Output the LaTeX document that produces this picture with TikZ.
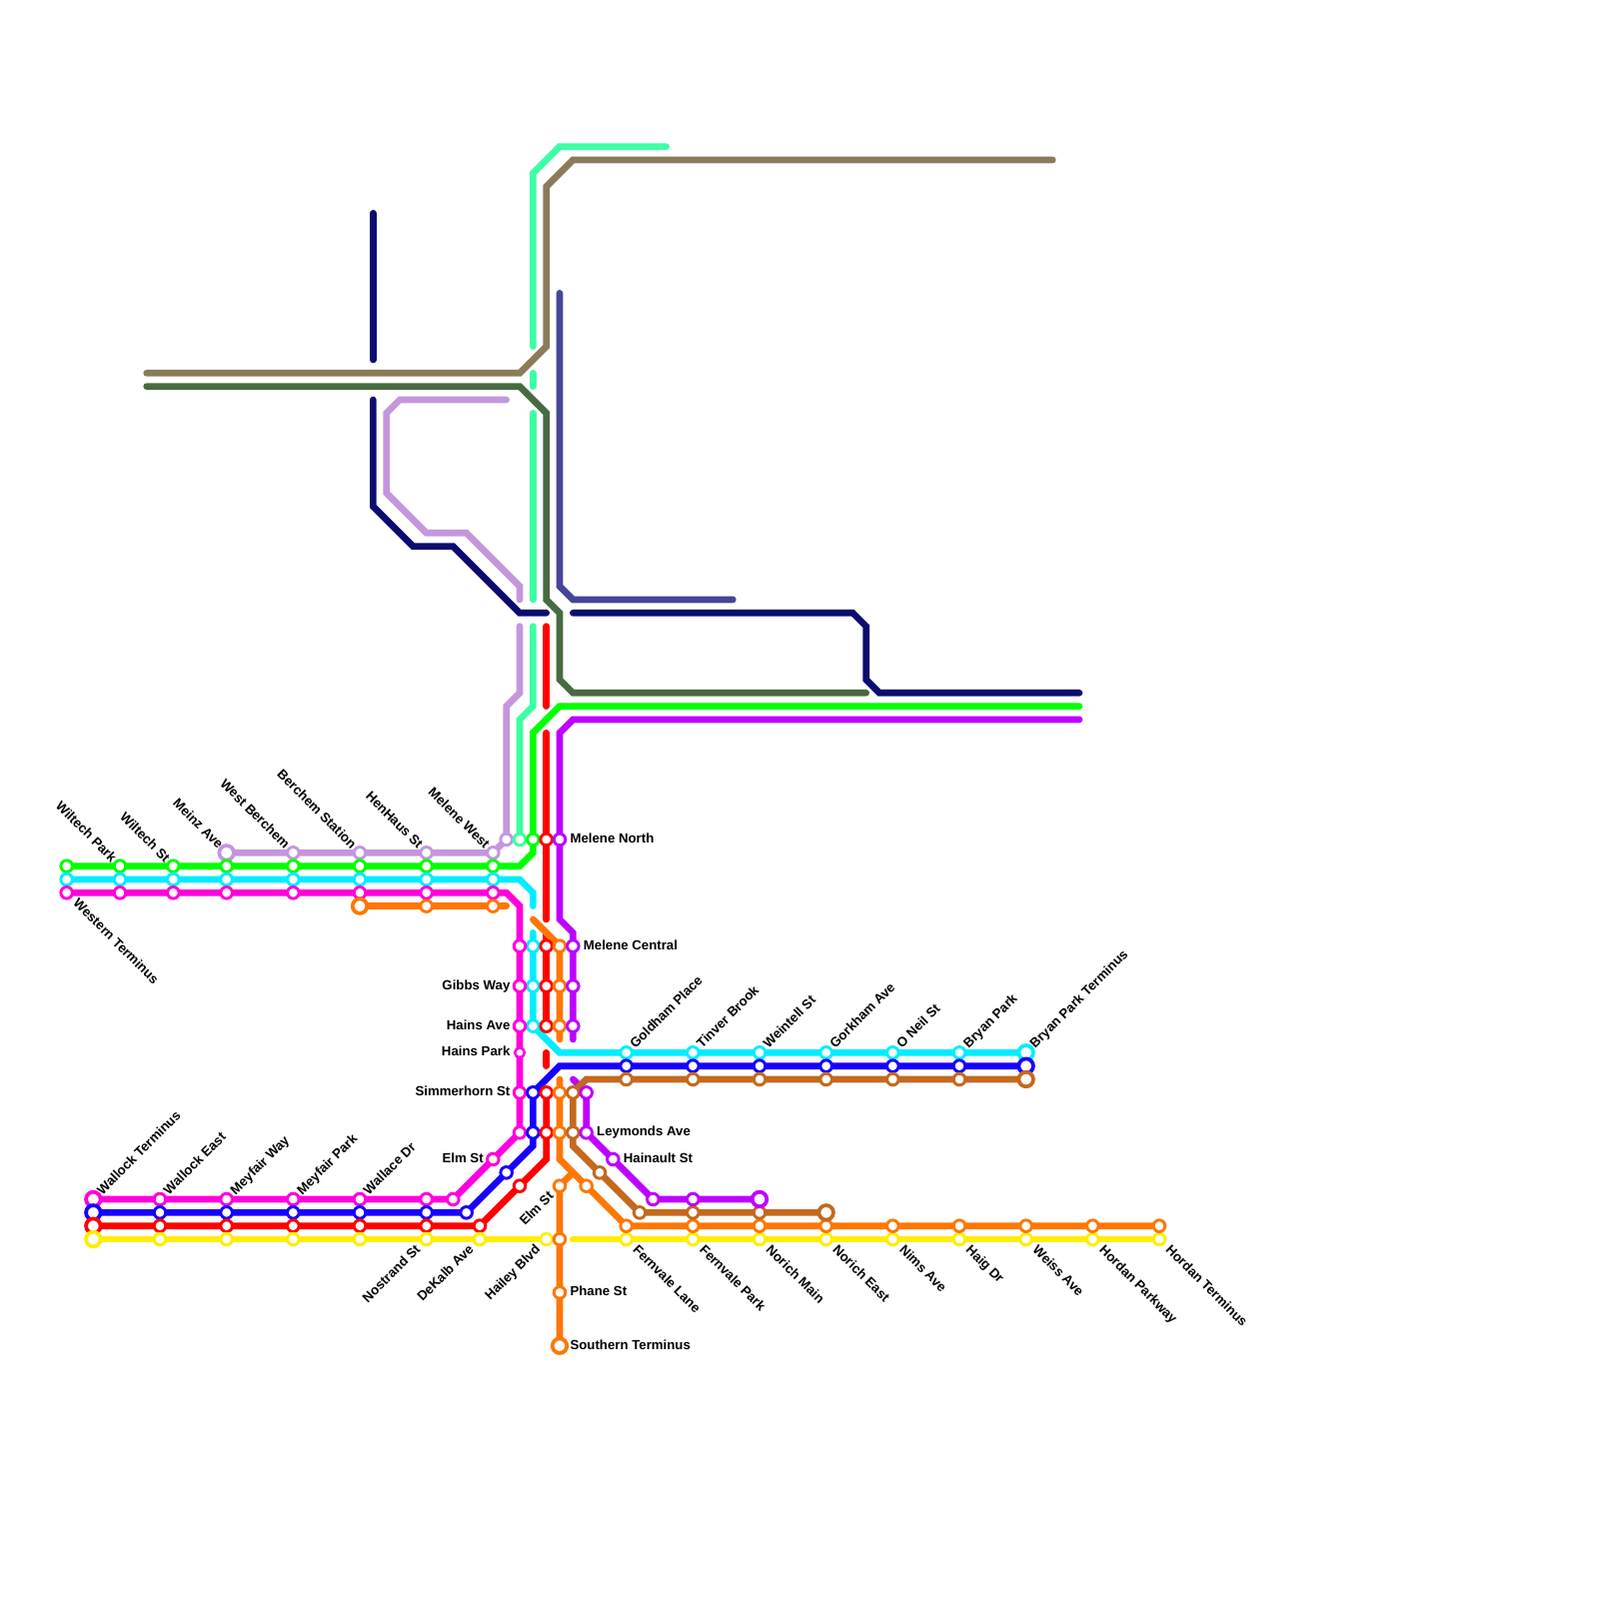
\documentclass[tikz,border=0pt]{standalone}
\usepackage{fontspec}
\setmainfont{Liberation Sans}
\usetikzlibrary{backgrounds}
\definecolor{lime}{HTML}{00FF00}
\definecolor{aqua}{HTML}{00EEFF}
\definecolor{pinkish}{HTML}{FF00DD}
\definecolor{bluish}{HTML}{1800FF}
\definecolor{redline}{HTML}{FF0000}
\definecolor{yellowish}{HTML}{FFEE00}
\definecolor{amber}{HTML}{FF7700}
\definecolor{rust}{HTML}{C4691E}
\definecolor{violet}{HTML}{BF00FF}
\definecolor{lilac}{HTML}{C497DD}
\definecolor{navy}{HTML}{0C0C70}
\definecolor{mint}{HTML}{3DFFA5}
\definecolor{taupe}{HTML}{8A7C5A}
\definecolor{moss}{HTML}{476B41}
\definecolor{indigo}{HTML}{45459A}
\tikzset{stn/.style={circle,fill=white,inner sep=0pt,minimum size=4.95pt,line width=1.25pt},stnbig/.style={circle,fill=white,inner sep=0pt,minimum size=6.2pt,line width=1.6pt},stnsmall/.style={circle,fill=white,inner sep=0pt,minimum size=4.1pt,line width=1.05pt},route/.style={line width=2.85pt,line cap=round},lbl/.style={font=\bfseries\fontsize{5.65}{6}\selectfont,inner sep=0pt},lblne/.style={lbl,anchor=base west,xshift=3.8pt,yshift=1.5pt,rotate=45},lblse/.style={lbl,anchor=base west,xshift=2.4pt,yshift=-4.7pt,rotate=-45},lblnw/.style={lbl,anchor=base east,xshift=-3.65pt,yshift=1.25pt,rotate=-45},lblsw/.style={lbl,anchor=base east,xshift=-2.2pt,yshift=-4.6pt,rotate=45},lble/.style={lbl,anchor=base west,xshift=4.3pt,yshift=-1.5pt},lblw/.style={lbl,anchor=base east,xshift=-3.9pt,yshift=-1.5pt}}

\begin{document}
\begin{tikzpicture}[x=2mm,y=-2mm]
\useasboundingbox (0,0) rectangle (120,120);
% stations
\foreach \x/\y in {22/64,27/64,32/64,37/64,38/63} \node[stn,draw=lilac] (li-\x-\y) at (\x,\y) {};
\node[stnbig,draw=lilac] (li-17-64) at (17,64) {};
\node[stn,draw=mint] (i-39-63) at (39,63) {};
\foreach \x/\y in {5/65,9/65,13/65,17/65,22/65,27/65,32/65,37/65,40/63} \node[stn,draw=lime] (g-\x-\y) at (\x,\y) {};
\foreach \x/\y in {5/66,9/66,13/66,17/66,22/66,27/66,32/66,37/66,40/71,40/74,40/77,47/79,52/79,57/79,62/79,67/79,72/79} \node[stn,draw=aqua] (c-\x-\y) at (\x,\y) {};
\node[stnbig,draw=aqua] (c-77-79) at (77,79) {};
\foreach \x/\y in {5/67,9/67,13/67,17/67,22/67,27/67,32/67,37/67,39/71,39/74,39/77,39/82,39/85,37/87,34/90,32/90,27/90,22/90,17/90,12/90} \node[stn,draw=pinkish] (m-\x-\y) at (\x,\y) {};
\node[stnsmall,draw=pinkish] (m-39-79) at (39,79) {};
\node[stnbig,draw=pinkish] (m-7-90) at (7,90) {};
\foreach \x/\y in {12/91,17/91,22/91,27/91,32/91,35/91,38/88,40/85,40/82,47/80,52/80,57/80,62/80,67/80,72/80} \node[stn,draw=bluish] (b-\x-\y) at (\x,\y) {};
\node[stnbig,draw=bluish] (b-7-91) at (7,91) {};
\node[stnbig,draw=bluish] (b-77-80) at (77,80) {};
\foreach \x/\y in {41/63,41/71,41/74,41/77,41/82,41/85,39/89,36/92,32/92,27/92,22/92,17/92,12/92} \node[stn,draw=redline] (r-\x-\y) at (\x,\y) {};
\node[stnbig,draw=redline] (r-7-92) at (7,92) {};
\foreach \x/\y in {12/93,17/93,22/93,27/93,32/93,36/93,47/93,52/93,57/93,62/93,67/93,72/93,77/93,82/93,87/93} \node[stn,draw=yellowish] (y-\x-\y) at (\x,\y) {};
\node[stnbig,draw=yellowish] (y-7-93) at (7,93) {};
\node[stn,draw=yellowish,line width=1.1pt] (y-41-93) at (41,93) {};
\foreach \x/\y in {32/68,37/68,42/71,42/74,42/77,42/82,42/85,42/89,44/89,42/93,42/97,47/92,52/92,57/92,62/92,67/92,72/92,77/92,82/92,87/92} \node[stn,draw=amber] (o-\x-\y) at (\x,\y) {};
\node[stnbig,draw=amber] (o-27-68) at (27,68) {};
\node[stnbig,draw=amber] (o-42-101) at (42,101) {};
\foreach \x/\y in {43/82,43/85,45/88,48/91,52/91,57/91,47/81,52/81,57/81,62/81,67/81,72/81} \node[stn,draw=rust] (u-\x-\y) at (\x,\y) {};
\node[stnbig,draw=rust] (u-62-91) at (62,91) {};
\node[stnbig,draw=rust] (u-77-81) at (77,81) {};
\foreach \x/\y in {42/63,43/71,43/74,43/77,44/82,44/85,46/87,49/90,52/90} \node[stn,draw=violet] (v-\x-\y) at (\x,\y) {};
\node[stnbig,draw=violet] (v-57-90) at (57,90) {};
% line bends and free ends
\foreach \n/\x/\y in {ga/39/65,gb/40/64,gc/40/55,gd/42/53,ge/81/53,
ca/39/66,cb/40/67,cc/40/68,cd/40/70,ce/42/79,
ma/38/67,mb/39/68,mc/39/85,
ba/40/86,bb/42/80,
ra/41/87,rb/41/79,rc/41/80,rd/41/70,re/41/69,rf/41/55,rg/41/53,rh/41/47,
ya/43/93,
oa/38/68,ob/40/69,oc/42/71,od/42/78,oe/42/81,of/42/87,og/43/88,
ua/44/81,ub/43/86,uc/48/91,
va/81/54,vb/43/54,vc/42/55,vd/42/69,ve/43/70,vf/43/78,vg/43/81,vh/44/85,vi/49/90,
la/38/30,lb/30/30,lc/29/31,ld/29/37,le/32/40,lf/35/40,lg/39/44,lh/39/45,li/39/47,lj/39/52,lk/38/53,lm/37/64,
na/28/16,nb/28/27,nc/28/30,nd/28/38,ne/31/41,nf/34/41,ng/39/46,nh/41/46,ni/43/46,nj/64/46,nk/65/47,nl/65/51,nm/66/52,nn/81/52,
ia/50/11,ib/42/11,ic/40/13,id/40/26,ie/40/28,ig/40/29,ih/40/31,ii/40/45,ij/40/47,ik/40/53,il/39/54,
ta/79/12,tb/43/12,tc/41/14,td/41/26,te/39/28,tf/11/28,
sa/11/29,sb/39/29,sc/41/31,sd/41/45,se/42/46,sf/42/51,sg/43/52,sh/65/52,
da/42/22,db/42/44,dc/43/45,dd/55/45} \coordinate (\n) at (\x,\y);
\begin{scope}[on background layer]
\draw[route,navy] (na)--(nb);
\draw[route,navy] (nc)--(nd)--(ne)--(nf)--(ng)--(nh);
\draw[route,navy] (ni)--(nj)--(nk)--(nl)--(nm)--(nn);
\draw[route,indigo] (da)--(db)--(dc)--(dd);
\draw[route,mint] (ia)--(ib)--(ic)--(id);
\draw[route,mint] (ie)--(ig);
\draw[route,mint] (ih)--(ii);
\draw[route,mint] (ij)--(ik)--(il)--(i-39-63.center);
\draw[route,taupe] (ta)--(tb)--(tc)--(td)--(te)--(tf);
\draw[route,moss] (sa)--(sb)--(sc)--(sd)--(se)--(sf)--(sg)--(sh);
\draw[route,lilac] (la)--(lb)--(lc)--(ld)--(le)--(lf)--(lg)--(lh);
\draw[route,lilac] (li)--(lj)--(lk)--(li-38-63.center)--(lm)--(li-17-64.center);
\draw[route,lime] (g-5-65.center)--(ga)--(gb)--(gc)--(gd)--(ge);
\draw[route,aqua] (c-5-66.center)--(ca)--(cb)--(cc);
\draw[route,aqua] (cd)--(c-40-77.center)--(ce)--(c-77-79.center);
\draw[route,pinkish] (m-5-67.center)--(ma)--(mb)--(mc)--(m-34-90.center)--(m-7-90.center);
\draw[route,bluish] (b-7-91.center)--(b-35-91.center)--(ba)--(b-40-82.center)--(bb)--(b-77-80.center);
\draw[route,redline] (r-7-92.center)--(r-36-92.center)--(ra)--(r-41-82.center);
\draw[route,redline] (rb)--(rc);
\draw[route,redline] (rd)--(r-41-77.center);
\draw[route,redline] (re)--(rf);
\draw[route,redline] (rg)--(rh);
\draw[route,yellowish] (y-7-93.center)--(y-41-93.center);
\draw[route,yellowish] (ya)--(y-87-93.center);
\draw[route,amber] (o-27-68.center)--(oa);
\draw[route,amber] (ob)--(oc)--(od);
\draw[route,amber] (oe)--(of)--(o-47-92.center)--(o-87-92.center);
\draw[route,amber] (o-42-101.center)--(o-42-89.center)--(og)--(of);
\draw[route,violet] (va)--(vb)--(vc)--(vd)--(ve)--(vf);
\draw[route,violet] (vg)--(v-44-82.center)--(vh)--(vi)--(v-57-90.center);
\draw[route,rust] (u-77-81.center)--(ua)--(u-43-82.center)--(ub)--(uc)--(u-62-91.center);
\end{scope}
% labels
\foreach \at/\txt in {g-9-65/Wiltech Park,g-13-65/Wiltech St,li-17-64/Meinz Ave,li-22-64/West Berchem,li-27-64/Berchem Station,li-32-64/HenHaus St,li-37-64/Melene West} \node[lblnw] (l-\at) at (\at) {\txt};
\node[lblse] (l-m-5-67) at (m-5-67) {Western Terminus};
\foreach \at/\txt in {m-7-90/Wallock Terminus,m-12-90/Wallock East,m-17-90/Meyfair Way,m-22-90/Meyfair Park,m-27-90/Wallace Dr,c-47-79/Goldham Place,c-52-79/Tinver Brook,c-57-79/Weintell St,c-62-79/Gorkham Ave,c-67-79/O Neil St,c-72-79/Bryan Park,c-77-79/Bryan Park Terminus} \node[lblne] (l-\at) at (\at) {\txt};
\foreach \at/\txt in {y-32-93/Nostrand St,y-36-93/DeKalb Ave,y-41-93/Hailey Blvd,o-42-89/Elm St} \node[lblsw] (l-\at) at (\at) {\txt};
\foreach \at/\txt in {m-39-74/Gibbs Way,m-39-77/Hains Ave,m-39-79/Hains Park,m-39-82/Simmerhorn St,m-37-87/Elm St} \node[lblw] (l-\at) at (\at) {\txt};
\foreach \at/\txt in {v-42-63/Melene North,v-43-71/Melene Central,v-44-85/Leymonds Ave,v-46-87/Hainault St,o-42-97/Phane St,o-42-101/Southern Terminus} \node[lble] (l-\at) at (\at) {\txt};
\foreach \at/\txt in {y-47-93/Fernvale Lane,y-52-93/Fernvale Park,y-57-93/Norich Main,y-62-93/Norich East,y-67-93/Nims Ave,y-72-93/Haig Dr,y-77-93/Weiss Ave,y-82-93/Hordan Parkway,y-87-93/Hordan Terminus} \node[lblse] (l-\at) at (\at) {\txt};
\end{tikzpicture}
\end{document}
